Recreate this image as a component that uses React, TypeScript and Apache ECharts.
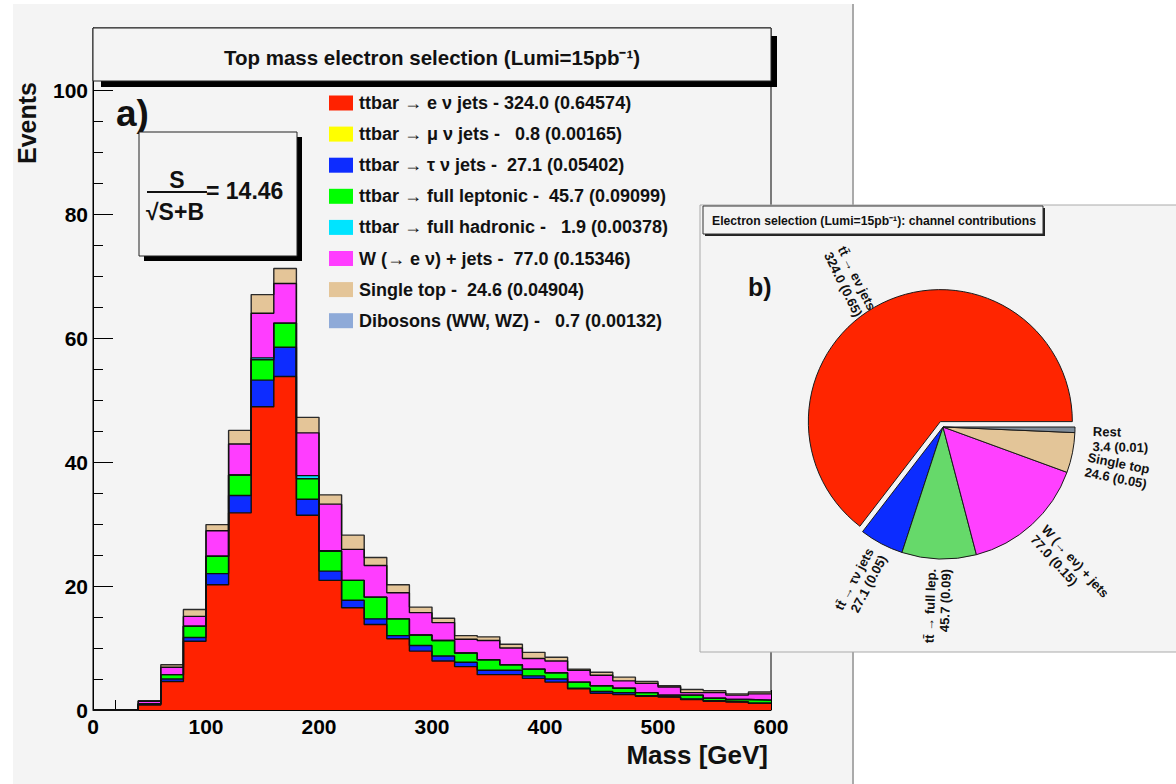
import React, { useEffect, useRef } from 'react';
import * as echarts from 'echarts';

const FONT = '"Liberation Sans", Arial, Helvetica, sans-serif';

// Histogram bin edges (GeV) and per-layer event counts per 20 GeV bin
const binEdges = [0, 20, 40, 60, 80, 100, 120, 140, 160, 180, 200, 220, 240, 260, 280, 300, 320, 340, 360, 380, 400, 420, 440, 460, 480, 500, 520, 540, 560, 580, 600];
const ttbarE = [0, 0, 0.8, 4.6, 11.1, 20.2, 31.8, 48.9, 53.8, 31.4, 20.9, 16.5, 13.8, 11.5, 9.5, 7.9, 7.0, 5.7, 5.7, 5.1, 4.5, 3.4, 2.7, 2.5, 2.2, 2.1, 1.7, 1.4, 1.3, 1.1];
const ttbarTau = [0, 0, 0.1, 0.4, 0.6, 1.8, 2.8, 4.3, 4.7, 2.6, 1.5, 1.2, 0.9, 0.5, 0.9, 0.8, 0.7, 0.7, 0.7, 0.4, 0.5, 0.1, 0.3, 0.3, 0.1, 0, 0.1, 0.1, 0, 0];
const ttbarFullLep = [0, 0, 0.1, 0.7, 1.8, 2.8, 3.3, 3.3, 3.9, 3.3, 3.2, 3.2, 3.5, 2.7, 1.7, 2.5, 1.5, 1.7, 0.9, 1.1, 1.0, 1.0, 0.9, 0.7, 0.5, 0.3, 0.6, 0.4, 0.4, 0.5];
const ttbarFullHad = [0, 0, 0, 0, 0, 0, 0, 0.3, 0, 0.5, 0.1, 0, 0, 0, 0, 0, 0, 0, 0, 0, 0, 0, 0, 0, 0, 0, 0, 0, 0, 0];
const wJets = [0, 0, 0.4, 1.2, 1.6, 4.1, 5.0, 7.2, 6.4, 6.9, 7.5, 5.0, 5.1, 4.2, 3.6, 2.9, 2.2, 3.1, 2.7, 1.7, 1.9, 1.9, 1.7, 1.2, 1.5, 1.3, 0.4, 0.9, 0.7, 1.0];
const singleTop = [0, 0, 0.1, 0.4, 1.1, 1.0, 2.2, 3.0, 2.4, 2.5, 1.5, 2.3, 1.3, 1.3, 0.9, 0.7, 0.6, 0.6, 0.6, 1.0, 0.6, 0.2, 0.5, 0.6, 0.3, 0.2, 0.5, 0.3, 0.2, 0.3];

const histLayers = [
  { name: 'ttbar \u2192 e \u03bd jets', values: ttbarE, color: '#ff2200' },
  { name: 'ttbar \u2192 \u03c4 \u03bd jets', values: ttbarTau, color: '#0d2cff' },
  { name: 'ttbar \u2192 full leptonic', values: ttbarFullLep, color: '#00ff00' },
  { name: 'ttbar \u2192 full hadronic', values: ttbarFullHad, color: '#00e4ff' },
  { name: 'W (\u2192 e \u03bd) + jets', values: wJets, color: '#ff3dff' },
  { name: 'Single top', values: singleTop, color: '#e4c598' },
];

// Legend
const legendLabels = ['ttbar \u2192 e \u03bd jets', 'ttbar \u2192 \u03bc \u03bd jets', 'ttbar \u2192 \u03c4 \u03bd jets', 'ttbar \u2192 full leptonic', 'ttbar \u2192 full hadronic', 'W (\u2192 e \u03bd) + jets', 'Single top', 'Dibosons (WW, WZ)'];
const legendTotals = [324.0, 0.8, 27.1, 45.7, 1.9, 77.0, 24.6, 0.7];
const legendFractions = ['0.64574', '0.00165', '0.05402', '0.09099', '0.00378', '0.15346', '0.04904', '0.00132'];
const legendColors = ['#ff2200', '#ffff00', '#0d2cff', '#00ff00', '#00e4ff', '#ff3dff', '#e4c598', '#8eaad8'];

// Pie
const pieLabels = ['tt\u0304 \u2192 e\u03bd jets', 'tt\u0304 \u2192 \u03c4\u03bd jets', 'tt\u0304 \u2192 full lep.', 'W (\u2192 e\u03bd) + jets', 'Single top', 'Rest'];
const pieValues = [324.0, 27.1, 45.7, 77.0, 24.6, 3.4];
const pieColors = ['#ff2500', '#0c2cff', '#66d96a', '#ff40ff', '#e3c598', '#7f8c99'];

const significance = '14.46';

export default function App() {
  const ref = useRef<HTMLDivElement>(null);
  useEffect(() => {
    const chart = echarts.init(ref.current!, undefined, { renderer: 'svg' });
    const pieSum = pieValues.reduce((a, b) => a + b, 0);

    // cumulative tops of each stacked layer (ROOT THStack style: draw the sum first, lower layers on top)
    const cumulative: number[][] = [];
    histLayers.forEach((layer, k) => {
      cumulative.push(layer.values.map((v, i) => (k > 0 ? cumulative[k - 1][i] : 0) + v));
    });
    const lineSeries: any[] = [];
    for (let k = histLayers.length - 1; k >= 0; k--) {
      const vals = cumulative[k];
      lineSeries.push({
        type: 'line',
        name: histLayers[k].name,
        step: 'end',
        symbol: 'none',
        z: 2,
        silent: true,
        lineStyle: { color: k === histLayers.length - 1 ? '#2a2a2a' : '#111', width: 1.4 },
        areaStyle: { color: histLayers[k].color, opacity: 1, origin: 'start' },
        data: binEdges.map((x, i) => [x, vals[Math.min(i, vals.length - 1)]]),
      });
    }

    const legendGraphics: any[] = [];
    legendLabels.forEach((lab, i) => {
      const yc = 103 + i * 31.1;
      legendGraphics.push({ type: 'rect', z: 20, shape: { x: 329, y: yc - 7.5, width: 24, height: 15 }, style: { fill: legendColors[i] } });
      legendGraphics.push({
        type: 'text', z: 20, x: 359, y: yc,
        style: { text: `${lab} - ${legendTotals[i].toFixed(1).padStart(5, ' ')} (${legendFractions[i]})`, font: `bold 18px ${FONT}`, fill: '#111', align: 'left', verticalAlign: 'middle' },
      });
    });

    const pieItemLabel: any[] = [
      undefined,
      undefined,
      undefined,
      undefined,
      { distanceToLabelLine: 6 },
      { distanceToLabelLine: 8 },
    ];
    const pieLabelShift: number[][] = [[11, 19], [0, 0], [0, 0], [0, 0], [0, 10], [0, 9]];

    const option: any = {
      animation: false,
      backgroundColor: '#ffffff',
      grid: { left: 93, right: 405, top: 28, bottom: 74, show: true, borderColor: '#000', borderWidth: 1, backgroundColor: 'transparent' },
      xAxis: {
        type: 'value', min: 0, max: 600, interval: 100,
        axisLine: { lineStyle: { color: '#000', width: 1 } },
        axisTick: { inside: true, length: 20, lineStyle: { color: '#000' } },
        minorTick: { show: true, splitNumber: 5, length: 10, lineStyle: { color: '#000' } },
        splitLine: { show: false },
        axisLabel: { color: '#000', fontFamily: FONT, fontWeight: 'bold', fontSize: 21, margin: 6 },
      },
      yAxis: {
        type: 'value', min: 0, max: 110, interval: 20,
        axisLine: { show: true, lineStyle: { color: '#000', width: 1 } },
        axisTick: { inside: true, length: 20, lineStyle: { color: '#000' } },
        minorTick: { show: true, splitNumber: 4, length: 10, lineStyle: { color: '#000' } },
        splitLine: { show: false },
        axisLabel: { color: '#000', fontFamily: FONT, fontWeight: 'bold', fontSize: 21, margin: 5, showMaxLabel: false },
      },
      series: [
        ...lineSeries,
        {
          type: 'pie',
          z: 40,
          center: [943, 427],
          radius: 132,
          startAngle: 0,
          clockwise: false,
          selectedMode: 'single',
          selectedOffset: 6,
          avoidLabelOverlap: false,
          minShowLabelAngle: 0,
          labelLayout: (p: any) => ({ hideOverlap: false, dx: pieLabelShift[p.dataIndex][0], dy: pieLabelShift[p.dataIndex][1] }),
          silent: true,
          emphasis: { disabled: true },
          itemStyle: { borderColor: '#1a1a1a', borderWidth: 1 },
          label: {
            show: true, position: 'outside', rotate: 'radial', distanceToLabelLine: 0,
            fontFamily: FONT, fontWeight: 'bold', fontSize: 13, lineHeight: 15, color: '#111',
            formatter: (p: any) => `${pieLabels[p.dataIndex]}\n${p.value.toFixed(1)} (${(p.value / pieSum).toFixed(2)})`,
          },
          labelLine: { show: false, length: 10, length2: 0 },
          data: pieLabels.map((n, i) => ({
            name: n, value: pieValues[i], selected: i === 0, itemStyle: { color: pieColors[i] },
            label: pieItemLabel[i],
          })),
        },
      ],
      graphic: [
        // left canvas
        { type: 'rect', z: -10, shape: { x: 13, y: 4, width: 840, height: 790 }, style: { fill: '#f4f4f4' } },
        { type: 'line', z: -9, shape: { x1: 853, y1: 4, x2: 853, y2: 784 }, style: { stroke: '#aaaaaa', lineWidth: 2 } },
        // title box
        { type: 'rect', z: 19, shape: { x: 101, y: 36, width: 676, height: 51 }, style: { fill: '#000' } },
        { type: 'rect', z: 20, shape: { x: 93, y: 28, width: 678, height: 53 }, style: { fill: '#f4f4f4', stroke: '#222', lineWidth: 1 } },
        { type: 'text', z: 21, x: 432, y: 57, style: { text: 'Top mass electron selection (Lumi=15pb\u207b\u00b9)', font: `bold 20.5px ${FONT}`, fill: '#111', align: 'center', verticalAlign: 'middle' } },
        // axis titles
        { type: 'text', z: 20, x: 27, y: 82, rotation: Math.PI / 2, style: { text: 'Events', font: `bold 25px ${FONT}`, fill: '#111', align: 'right', verticalAlign: 'middle' } },
        { type: 'text', z: 20, x: 768, y: 755, style: { text: 'Mass [GeV]', font: `bold 26px ${FONT}`, fill: '#111', align: 'right', verticalAlign: 'middle' } },
        // a)
        { type: 'text', z: 20, x: 116, y: 113, style: { text: 'a)', font: `bold 37px ${FONT}`, fill: '#111', align: 'left', verticalAlign: 'middle' } },
        // S/sqrt(S+B) box
        { type: 'rect', z: 19, shape: { x: 144, y: 137, width: 158, height: 124 }, style: { fill: '#000' } },
        { type: 'rect', z: 20, shape: { x: 139, y: 132, width: 158, height: 124 }, style: { fill: '#f4f4f4', stroke: '#222', lineWidth: 1 } },
        { type: 'text', z: 21, x: 177, y: 180, style: { text: 'S', font: `bold 23px ${FONT}`, fill: '#111', align: 'center', verticalAlign: 'middle' } },
        { type: 'line', z: 21, shape: { x1: 147, y1: 192, x2: 207, y2: 192 }, style: { stroke: '#111', lineWidth: 2 } },
        { type: 'text', z: 21, x: 146, y: 212, style: { text: '\u221aS+B', font: `bold 23px ${FONT}`, fill: '#111', align: 'left', verticalAlign: 'middle' } },
        { type: 'text', z: 21, x: 206, y: 191, style: { text: `= ${significance}`, font: `bold 23px ${FONT}`, fill: '#111', align: 'left', verticalAlign: 'middle' } },
        ...legendGraphics,
        // pie canvas
        { type: 'rect', z: 30, shape: { x: 700, y: 205, width: 480, height: 447 }, style: { fill: '#f4f4f4', stroke: '#aaaaaa', lineWidth: 1 } },
        { type: 'rect', z: 31, shape: { x: 705, y: 208, width: 340, height: 28 }, style: { fill: '#222' } },
        { type: 'rect', z: 32, shape: { x: 703, y: 206, width: 340, height: 28 }, style: { fill: '#f4f4f4', stroke: '#333', lineWidth: 1 } },
        { type: 'text', z: 33, x: 712, y: 221, style: { text: 'Electron selection (Lumi=15pb\u207b\u00b9): channel contributions', font: `bold 12.2px ${FONT}`, fill: '#111', align: 'left', verticalAlign: 'middle' } },
        { type: 'text', z: 33, x: 748, y: 287, style: { text: 'b)', font: `bold 25px ${FONT}`, fill: '#111', align: 'left', verticalAlign: 'middle' } },
      ],
    };
    chart.setOption(option);
    return () => chart.dispose();
  }, []);
  return <div ref={ref} style={{ position: 'fixed', left: 0, top: 0, width: 1176, height: 784 }} />;
}
